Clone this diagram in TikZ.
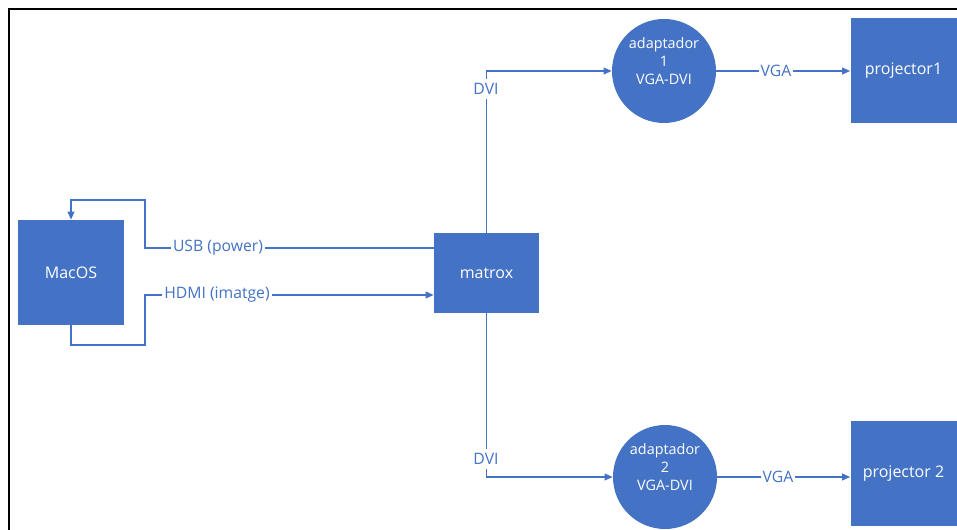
\documentclass[tikz,border=0pt]{standalone}
\usepackage{fontspec}
\setmainfont{Open Sans}
\usetikzlibrary{arrows.meta}
\definecolor{officeblue}{RGB}{68,114,196}

\begin{document}
\begin{tikzpicture}[
  x=0.75pt, y=-0.75pt,
  box/.style={fill=officeblue, text=white, minimum width=79.5pt, minimum height=78.75pt,
    inner sep=0pt, font=\fontsize{12}{14}\selectfont},
  adapter/.style={circle, fill=officeblue, text=white, minimum size=78pt, inner sep=0pt,
    align=center, font=\fontsize{10.8}{13.5}\selectfont},
  wire/.style={draw=officeblue, line width=1.1pt},
  arrowwire/.style={wire, -{Triangle[length=6pt,width=5pt]}},
  wirelabel/.style={fill=white, text=officeblue, inner sep=1.5pt, font=\fontsize{11.8}{14}\selectfont}]

    \useasboundingbox (0,0) rectangle (957,530);
    \draw[line width=1.5pt] (9,530) -- (9,9) -- (957,9);

    \node[box] at (71,272.5) (macos) {MacOS};
    \node[box, minimum width=78.75pt, minimum height=60pt] at (486.5,273) (matrox) {matrox};
    \node[adapter] at (664,71) (ad1) {adaptador\\1\\VGA-DVI\\[2pt]};
    \node[adapter] at (665,477) (ad2) {adaptador\\2\\VGA-DVI\\[1pt]};
    \node[box] at (903.5,70.5) (proj1) {projector1};
    \node[box] at (903.5,473.5) (proj2) {projector 2};

    \coordinate (usbtop) at (145,200);
    \coordinate (hdmibot) at (145,345);

    \draw[arrowwire] ([yshift=18.75pt]matrox.west) -| (usbtop) -| (macos.north);
    \draw[arrowwire] (macos.south) |- (hdmibot) |- ([yshift=-16.5pt]matrox.west);
    \draw[arrowwire] (matrox.north) |- (ad1.west);
    \draw[arrowwire] (matrox.south) |- (ad2.west);
    \draw[arrowwire] (ad1.east) -- (ad1.east -| proj1.west);
    \draw[arrowwire] (ad2.east) -- (ad2.east -| proj2.west);

    % labels on the wires
    \node[wirelabel] at (218,248) (usblbl) {USB (power)};
    \node[wirelabel] at (217,295) (hdmilbl) {HDMI (imatge)};
    \node[wirelabel, inner ysep=3pt] at (486,89) (dvi1) {DVI};
    \node[wirelabel, inner ysep=3pt] at (486,459) (dvi2) {DVI};
    \node[wirelabel] at (776,71) (vga1) {VGA};
    \node[wirelabel] at (778,477) (vga2) {VGA};

\end{tikzpicture}
\end{document}
